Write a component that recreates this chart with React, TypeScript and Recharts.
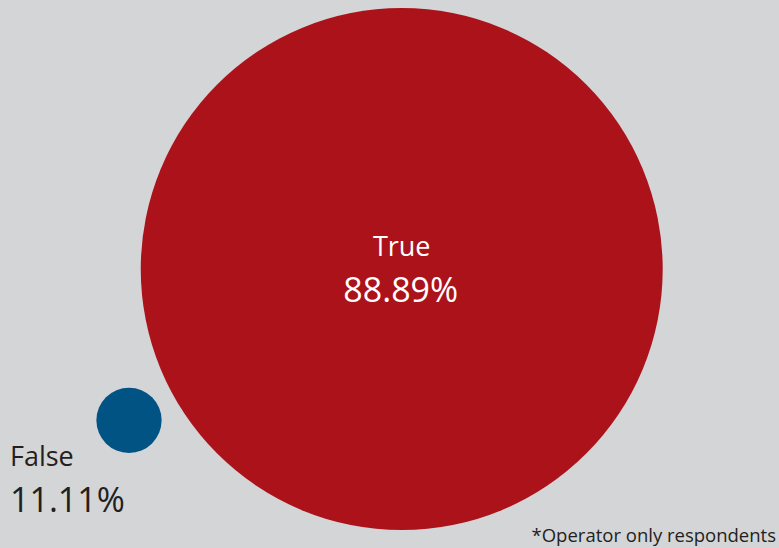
import { ScatterChart, Scatter, XAxis, YAxis, ZAxis, Cell } from 'recharts'

// Survey answers, share of respondents (%)
const answers = ['True', 'False']
const shares = [88.89, 11.11]
const colors = ['#ab121a', '#015384']
// bubble layout in chart units (0-100 each way)
const bubbleX = [51.57, 16.56]
const bubbleY = [50.9, 23.3]
const labelPlacement = ['inside', 'below-left']

const footnote = '*Operator only respondents'

const WIDTH = 779
const HEIGHT = 548
const FONT = '"Open Sans", "Noto Sans", sans-serif'

const data = answers.map((answer, i) => ({
  answer,
  share: shares[i],
  x: bubbleX[i],
  y: bubbleY[i],
  placement: labelPlacement[i],
}))

// radius grows linearly with share, taken from the ZAxis range
const Bubble = (props: any) => {
  const { cx, cy, payload, fill } = props
  const r = props.size ?? props.width / 2
  const value = `${payload.share.toFixed(2)}%`

  if (payload.placement === 'inside') {
    return (
      <g>
        <circle cx={cx} cy={cy} r={r} fill={fill} />
        <text x={cx} y={cy - 13} textAnchor="middle" fill="#ffffff" fontSize={27} fontFamily={FONT}>
          {payload.answer}
        </text>
        <text x={cx - 1} y={cy + 33} textAnchor="middle" fill="#ffffff" fontSize={34} fontFamily={FONT}>
          {value}
        </text>
      </g>
    )
  }

  return (
    <g>
      <circle cx={cx} cy={cy} r={r} fill={fill} />
      <text x={cx - 119} y={cy + 46} fill="#231f20" fontSize={27} fontFamily={FONT}>
        {payload.answer}
      </text>
      <text x={cx - 119} y={cy + 92} fill="#231f20" fontSize={34} fontFamily={FONT}>
        {value}
      </text>
    </g>
  )
}

export default function App() {
  return (
    <div style={{ position: 'absolute', left: 0, top: 0, width: WIDTH, height: HEIGHT, background: '#d4d5d7' }}>
      <ScatterChart width={WIDTH} height={HEIGHT} margin={{ top: 0, right: 0, bottom: 0, left: 0 }}>
        <XAxis type="number" dataKey="x" domain={[0, 100]} hide />
        <YAxis type="number" dataKey="y" domain={[0, 100]} hide />
        <ZAxis type="number" dataKey="share" domain={[0, 100]} range={[0, 293.6]} />
        <Scatter data={data} shape={Bubble} isAnimationActive={false}>
          {data.map((d, i) => (
            <Cell key={d.answer} fill={colors[i]} />
          ))}
        </Scatter>
      </ScatterChart>
      <div
        style={{
          position: 'absolute',
          right: 3,
          bottom: 2,
          fontFamily: FONT,
          fontSize: 18.5,
          lineHeight: '22px',
          color: '#231f20',
        }}
      >
        {footnote}
      </div>
    </div>
  )
}
